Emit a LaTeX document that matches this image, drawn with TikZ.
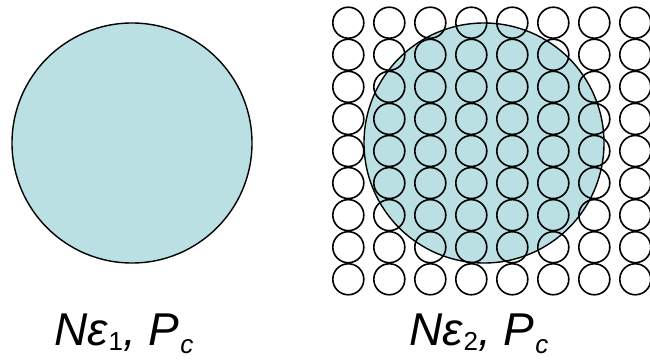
\documentclass[tikz,border=0pt]{standalone}
\usepackage{fontspec}
\setmainfont{Liberation Sans}
\usetikzlibrary{positioning}

\definecolor{poolfill}{HTML}{BBE0E3}
\newcommand{\lowsub}[2]{\raisebox{-#1}{\fontsize{26}{26}\selectfont #2}}

\begin{document}
\begin{tikzpicture}[
        x=1pt, y=-1pt,
        disk/.style={circle, minimum size=240pt, inner sep=0pt, line width=1.4pt},
        cell/.style={circle, draw, minimum size=31pt, inner sep=0pt, line width=1.6pt},
        caption/.style={anchor=base, inner sep=0pt, font=\fontsize{46}{54}\selectfont\itshape}
        ]
        \useasboundingbox (0,0) rectangle (650,359);

        \node (whole) [disk, draw, fill=poolfill] at (132,143) {};
        \node (part) [disk, fill=poolfill] at (484,143) {};

        % grid of small cells over the second disk
        \foreach \i in {0,...,7}
          \foreach \j in {0,...,8}
            \node (cell-\i-\j) [cell] at ({348.3+41*\i},{22.7+32.07*\j}) {};

        \node (rim) [disk, draw] at (part) {};

        \node (lblwhole) [caption] at (124,345) {N\kern-0.5pt ε\kern1pt\lowsub{5pt}{\upshape 1}, P\kern1pt\lowsub{8pt}{c}};
        \node (lblpart) [caption] at (479,345) {N\kern-0.5pt ε\kern1pt\lowsub{5pt}{\upshape 2}, P\kern1pt\lowsub{8pt}{c}};
    \end{tikzpicture}
\end{document}
